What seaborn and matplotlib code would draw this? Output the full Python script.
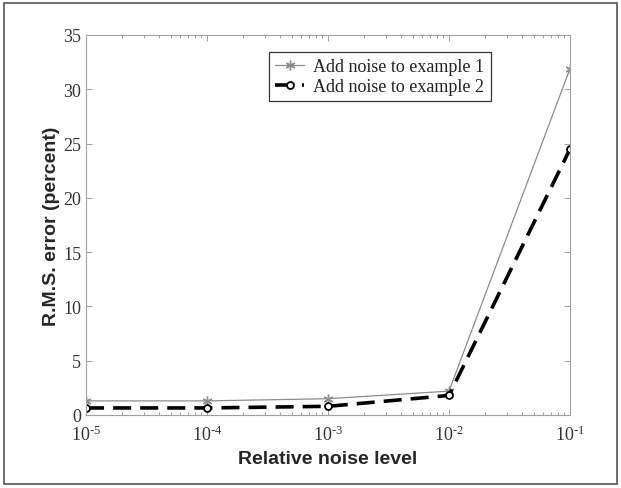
import matplotlib
matplotlib.use("Agg")
import matplotlib.pyplot as plt
import seaborn as sns
import pandas as pd
from matplotlib.patches import Rectangle
from matplotlib.ticker import LogLocator, FixedLocator, NullFormatter

noise_levels = [1e-5, 1e-4, 1e-3, 1e-2, 1e-1]
example1 = [1.3, 1.3, 1.5, 2.2, 31.9]
example2 = [0.65, 0.65, 0.8, 1.8, 24.5]
series_names = ["Add noise to example 1", "Add noise to example 2"]
yticks = [0, 5, 10, 15, 20, 25, 30, 35]
xtick_exponents = ["-5", "-4", "-3", "-2", "-1"]

sns.set_theme(style="white")
plt.rcParams['font.family'] = ['Liberation Serif', 'DejaVu Serif']
plt.rcParams['mathtext.fontset'] = 'custom'
plt.rcParams['mathtext.rm'] = 'Liberation Serif'

df = pd.DataFrame({
    "noise": noise_levels * 2,
    "rms": example1 + example2,
    "series": [series_names[0]] * 5 + [series_names[1]] * 5,
})

fig = plt.figure(figsize=(6.21, 4.89), dpi=100)
ax = fig.add_axes([86/621, 1 - 416/489, (570-86)/621, (416-36)/489])

gray = "#8c8c8c"
sns.lineplot(data=df[df.series == series_names[0]], x="noise", y="rms", ax=ax,
             color=gray, linewidth=0.9, marker=(6, 2, 0), markersize=7,
             markeredgecolor=gray, markerfacecolor=gray, markeredgewidth=1.0,
             label=series_names[0])
sns.lineplot(data=df[df.series == series_names[1]], x="noise", y="rms", ax=ax,
             color="black", linewidth=2.6, linestyle=(0, (5, 2.5)), marker="o",
             markersize=5, markeredgecolor="black", markerfacecolor="white",
             markeredgewidth=1.3, label=series_names[1])

ax.set_xscale("log")
ax.set_xlim(1e-5, 1e-1)
ax.set_ylim(0, 35)
ax.set_yticks(yticks)
ax.set_yticklabels([str(t) for t in yticks])
ax.xaxis.set_major_locator(FixedLocator(noise_levels))
ax.set_xticklabels([r"$\mathregular{10^{\text{" + e + "}}}$" for e in xtick_exponents])
ax.xaxis.set_minor_locator(LogLocator(base=10, subs=range(2, 10), numticks=20))
ax.xaxis.set_minor_formatter(NullFormatter())

for s in ax.spines.values():
    s.set_color("#a0a0a0")
    s.set_linewidth(0.8)
ax.tick_params(axis="both", which="both", direction="in", colors="#a0a0a0",
               top=True, right=True, bottom=True, left=True,
               labelcolor="#333333", labelsize=13, width=0.7)
ax.tick_params(which="major", length=4)
ax.tick_params(which="minor", length=2.5)
ax.tick_params(axis="x", pad=7)

ax.set_xlabel("Relative noise level", fontsize=14, fontweight="bold",
              family=["Liberation Sans"], labelpad=4)
ax.set_ylabel("R.M.S. error (percent)", fontsize=14, fontweight="bold",
              family=["Liberation Sans"], labelpad=2)

leg = ax.legend(loc="upper left", bbox_to_anchor=((269-86)/484, (416-53)/380),
                frameon=True, fancybox=False, fontsize=13, handlelength=1.6,
                handletextpad=0.5, borderpad=0.35, labelspacing=0.15,
                borderaxespad=0)
leg.get_frame().set_edgecolor("black")
leg.get_frame().set_linewidth(0.9)
for t in leg.get_texts():
    t.set_color("#222222")

fig.patches.append(Rectangle((4/621, 4/489), 613/621, 481/489, transform=fig.transFigure,
                             fill=False, edgecolor="#555555", linewidth=1.2))

fig.savefig("out.png", dpi=100)
